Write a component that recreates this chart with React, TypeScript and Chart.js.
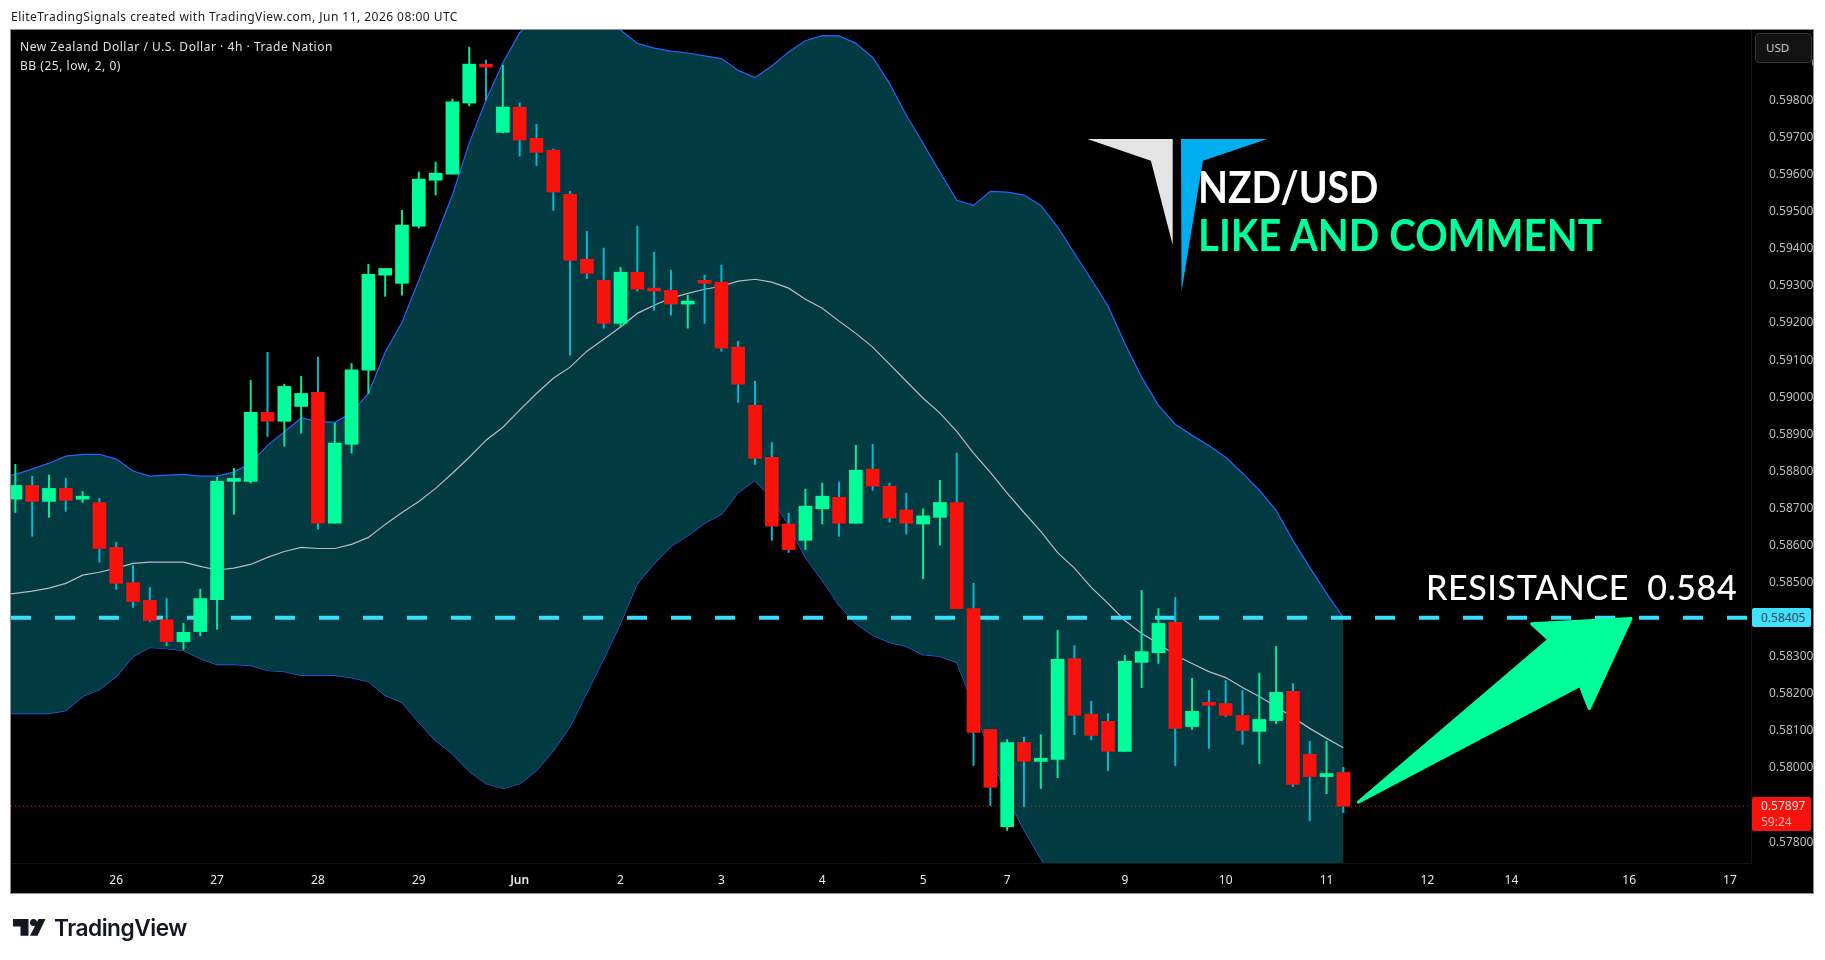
import { useEffect, useRef } from 'react'
import { Chart, registerables } from 'chart.js'

Chart.register(...registerables)

const OPEN = [
  0.58725, 0.58762, 0.58719, 0.58754, 0.58725, 0.58716, 0.58595, 0.58500, 0.58452, 0.58400,
  0.58341, 0.58368, 0.58454, 0.58773, 0.58773, 0.58959, 0.58935, 0.58975, 0.59013, 0.58660,
  0.58873, 0.59073, 0.59329, 0.59307, 0.59461, 0.59585, 0.59601, 0.59793, 0.59898, 0.59714,
  0.59782, 0.59698, 0.59666, 0.59547, 0.59372, 0.59315, 0.59199, 0.59337, 0.59294, 0.59288,
  0.59251, 0.59315, 0.59310, 0.59135, 0.58978, 0.58838, 0.58658, 0.58614, 0.58699, 0.58730,
  0.58660, 0.58806, 0.58760, 0.58696, 0.58658, 0.58676, 0.58716, 0.58430, 0.58104, 0.57842,
  0.58069, 0.58018, 0.58023, 0.58295, 0.58145, 0.58126, 0.58045, 0.58285, 0.58311, 0.58393,
  0.58112, 0.58177, 0.58174, 0.58142, 0.58099, 0.58128, 0.58207, 0.58037, 0.57977, 0.57988,
]
const HIGH = [
  0.58819, 0.58787, 0.58790, 0.58781, 0.58746, 0.58727, 0.58609, 0.58546, 0.58487, 0.58457,
  0.58390, 0.58482, 0.58784, 0.58808, 0.59045, 0.59121, 0.59035, 0.59056, 0.59108, 0.58930,
  0.59091, 0.59358, 0.59347, 0.59504, 0.59607, 0.59634, 0.59804, 0.59944, 0.59909, 0.59895,
  0.59793, 0.59736, 0.59669, 0.59555, 0.59447, 0.59402, 0.59350, 0.59461, 0.59391, 0.59342,
  0.59275, 0.59329, 0.59356, 0.59151, 0.59043, 0.58878, 0.58687, 0.58752, 0.58768, 0.58771,
  0.58870, 0.58873, 0.58768, 0.58741, 0.58699, 0.58776, 0.58849, 0.58498, 0.58104, 0.58077,
  0.58083, 0.58090, 0.58371, 0.58330, 0.58180, 0.58147, 0.58304, 0.58479, 0.58430, 0.58460,
  0.58242, 0.58209, 0.58236, 0.58209, 0.58255, 0.58328, 0.58228, 0.58072, 0.58072, 0.58002,
]
const LOW = [
  0.58689, 0.58625, 0.58676, 0.58692, 0.58716, 0.58555, 0.58482, 0.58433, 0.58395, 0.58330,
  0.58320, 0.58357, 0.58374, 0.58684, 0.58768, 0.58894, 0.58868, 0.58903, 0.58644, 0.58660,
  0.58849, 0.59010, 0.59272, 0.59275, 0.59456, 0.59545, 0.59601, 0.59785, 0.59801, 0.59712,
  0.59650, 0.59625, 0.59504, 0.59113, 0.59320, 0.59186, 0.59189, 0.59286, 0.59234, 0.59221,
  0.59186, 0.59199, 0.59124, 0.58986, 0.58819, 0.58614, 0.58581, 0.58589, 0.58658, 0.58625,
  0.58660, 0.58749, 0.58663, 0.58631, 0.58511, 0.58601, 0.58430, 0.58007, 0.57899, 0.57832,
  0.57896, 0.57945, 0.57974, 0.58090, 0.58077, 0.57993, 0.58045, 0.58217, 0.58282, 0.58007,
  0.58104, 0.58053, 0.58139, 0.58064, 0.58012, 0.58120, 0.57950, 0.57858, 0.57931, 0.57880,
]
const CLOSE = [
  0.58762, 0.58719, 0.58754, 0.58722, 0.58733, 0.58592, 0.58498, 0.58449, 0.58398, 0.58341,
  0.58366, 0.58457, 0.58773, 0.58776, 0.58959, 0.58935, 0.59029, 0.59010, 0.58660, 0.58876,
  0.59074, 0.59331, 0.59347, 0.59464, 0.59588, 0.59604, 0.59796, 0.59898, 0.59890, 0.59782,
  0.59693, 0.59660, 0.59553, 0.59369, 0.59334, 0.59199, 0.59337, 0.59291, 0.59286, 0.59251,
  0.59253, 0.59307, 0.59132, 0.59035, 0.58835, 0.58652, 0.58589, 0.58706, 0.58733, 0.58660,
  0.58803, 0.58760, 0.58674, 0.58660, 0.58680, 0.58716, 0.58430, 0.58096, 0.57948, 0.58069,
  0.58018, 0.58026, 0.58293, 0.58142, 0.58088, 0.58045, 0.58288, 0.58314, 0.58390, 0.58107,
  0.58153, 0.58169, 0.58142, 0.58101, 0.58131, 0.58204, 0.57956, 0.57977, 0.57985, 0.57897,
]
// the bands start one bar before the first candle, so they reach the left edge
const BB_UPPER = [
  0.58780,
  0.58792, 0.58806, 0.58822, 0.58841, 0.58846, 0.58846, 0.58833, 0.58801, 0.58787, 0.58790,
  0.58792, 0.58787, 0.58787, 0.58798, 0.58822, 0.58870, 0.58906, 0.58944, 0.58935, 0.58932,
  0.58957, 0.59010, 0.59121, 0.59202, 0.59315, 0.59429, 0.59545, 0.59685, 0.59801, 0.59901,
  0.59982, 0.60030, 0.60057, 0.60071, 0.60057, 0.60030, 0.59990, 0.59954, 0.59941, 0.59933,
  0.59928, 0.59920, 0.59913, 0.59881, 0.59862, 0.59893, 0.59931, 0.59961, 0.59975, 0.59974,
  0.59954, 0.59916, 0.59846, 0.59760, 0.59684, 0.59607, 0.59531, 0.59517, 0.59555, 0.59553,
  0.59545, 0.59517, 0.59459, 0.59388, 0.59318, 0.59246, 0.59145, 0.59054, 0.58978, 0.58927,
  0.58897, 0.58870, 0.58838, 0.58795, 0.58749, 0.58695, 0.58614, 0.58541, 0.58471, 0.58406,
]
const BB_MID = [
  0.58465,
  0.58471, 0.58477, 0.58485, 0.58498, 0.58520, 0.58528, 0.58539, 0.58552, 0.58555, 0.58555,
  0.58555, 0.58544, 0.58534, 0.58539, 0.58549, 0.58568, 0.58584, 0.58595, 0.58592, 0.58592,
  0.58603, 0.58622, 0.58657, 0.58689, 0.58719, 0.58754, 0.58795, 0.58838, 0.58884, 0.58919,
  0.58965, 0.59010, 0.59051, 0.59081, 0.59124, 0.59156, 0.59189, 0.59226, 0.59248, 0.59267,
  0.59280, 0.59291, 0.59299, 0.59313, 0.59318, 0.59310, 0.59294, 0.59264, 0.59240, 0.59205,
  0.59172, 0.59135, 0.59089, 0.59043, 0.58997, 0.58957, 0.58908, 0.58849, 0.58797, 0.58741,
  0.58689, 0.58638, 0.58581, 0.58539, 0.58487, 0.58444, 0.58398, 0.58363, 0.58336, 0.58304,
  0.58282, 0.58260, 0.58244, 0.58217, 0.58193, 0.58166, 0.58136, 0.58107, 0.58080, 0.58055,
]
const BB_LOWER = [
  0.58147,
  0.58147, 0.58147, 0.58147, 0.58155, 0.58193, 0.58212, 0.58247, 0.58301, 0.58325, 0.58322,
  0.58317, 0.58295, 0.58279, 0.58279, 0.58277, 0.58263, 0.58260, 0.58250, 0.58250, 0.58250,
  0.58244, 0.58233, 0.58196, 0.58177, 0.58123, 0.58074, 0.58039, 0.57991, 0.57958, 0.57945,
  0.57958, 0.57993, 0.58047, 0.58112, 0.58204, 0.58295, 0.58390, 0.58498, 0.58552, 0.58598,
  0.58627, 0.58660, 0.58684, 0.58743, 0.58776, 0.58727, 0.58655, 0.58568, 0.58506, 0.58439,
  0.58390, 0.58358, 0.58339, 0.58328, 0.58306, 0.58301, 0.58285, 0.58169, 0.58039, 0.57921,
  0.57834, 0.57756, 0.57683, 0.57643, 0.57629, 0.57616, 0.57610, 0.57610, 0.57616, 0.57621,
  0.57629, 0.57637, 0.57643, 0.57648, 0.57656, 0.57664, 0.57670, 0.57675, 0.57683, 0.57697,
]

const RESISTANCE = 0.58405
const LAST_PRICE = 0.57897
const X_MIN = -0.26
const X_MAX = 103.25
const Y_MIN = 0.57744
const Y_MAX = 0.5999

const DATE_POS = [6, 12, 18, 24, 30, 36, 42, 48, 54, 59, 66, 72, 78, 84, 89, 96, 102]
const DATE_LABELS = ['26', '27', '28', '29', 'Jun', '2', '3', '4', '5', '7', '9', '10', '11', '12', '14', '16', '17']
// 0.584 and 0.579 sit under the two price tags
const PRICE_TICKS = [
  0.578, 0.58, 0.581, 0.582, 0.583, 0.585, 0.586, 0.587, 0.588, 0.589, 0.59,
  0.591, 0.592, 0.593, 0.594, 0.595, 0.596, 0.597, 0.598, 0.599,
]

// hand drawn arrow, in bar index / price units
const ARROW_X = [79.89, 91.23, 90.2, 96.11, 93.63, 93.08]
const ARROW_Y = [0.57908, 0.58346, 0.58389, 0.58403, 0.5816, 0.58223]

const UP = '#00FF9A'
const DOWN = '#F7120C'
const UP_WICK = '#00F09A'
const DOWN_WICK = '#00BCD4'
const BAND = '#023A42'
const BAND_LINE = '#2962FF'

const SMALL = "'Noto Sans', sans-serif"
const BIG = "Lato, sans-serif"

const isUp = (i: number) => CLOSE[i] >= OPEN[i]
const series = (vals: number[]) => vals.map((y, i) => ({ x: i - 1, y }))

const panelPlugin = {
  id: 'panel',
  beforeDraw(chart: any) {
    const { ctx } = chart
    ctx.save()
    ctx.fillStyle = '#000'
    ctx.fillRect(11, 30, 1802, 863)
    ctx.strokeStyle = '#8f8f8f'
    ctx.lineWidth = 1
    ctx.strokeRect(10.5, 29.5, 1803, 864)
    ctx.restore()
  },
}

const arrowPlugin = {
  id: 'arrow',
  afterDatasetsDraw(chart: any) {
    const { ctx, scales } = chart
    ctx.save()
    ctx.fillStyle = UP
    ctx.strokeStyle = UP
    ctx.lineWidth = 3
    ctx.lineJoin = 'round'
    ctx.beginPath()
    ARROW_X.forEach((v, i) => {
      const px = scales.x.getPixelForValue(v)
      const py = scales.y.getPixelForValue(ARROW_Y[i])
      if (i === 0) ctx.moveTo(px, py)
      else ctx.lineTo(px, py)
    })
    ctx.closePath()
    ctx.fill()
    ctx.stroke()
    ctx.restore()
  },
}

const label = (left: number, top: number, text: string, style: any) => (
  <div style={{ position: 'absolute', left, top, whiteSpace: 'pre', ...style }}>{text}</div>
)

export default function App() {
  const canvasRef = useRef<HTMLCanvasElement>(null)

  useEffect(() => {
    if (!canvasRef.current) return
    const chart = new Chart(canvasRef.current, {
      type: 'bar',
      data: {
        datasets: [
          {
            type: 'line', label: 'BB upper', data: series(BB_UPPER), borderColor: BAND_LINE, borderWidth: 1.2,
            backgroundColor: BAND, fill: '+1', pointRadius: 0, tension: 0, order: 6,
          },
          {
            type: 'line', label: 'BB lower', data: series(BB_LOWER), borderColor: BAND_LINE, borderWidth: 1.2,
            pointRadius: 0, tension: 0, order: 6,
          },
          {
            type: 'line', label: 'BB basis', data: series(BB_MID), borderColor: '#B8BBC4', borderWidth: 1.2,
            pointRadius: 0, tension: 0, order: 5,
          },
          {
            type: 'line', label: 'Resistance', data: [{ x: X_MIN, y: RESISTANCE }, { x: X_MAX, y: RESISTANCE }],
            borderColor: '#36E0F8', borderWidth: 4, borderDash: [20, 24], pointRadius: 0, order: 4,
          },
          {
            type: 'line', label: 'Last', data: [{ x: X_MIN, y: LAST_PRICE }, { x: X_MAX, y: LAST_PRICE }],
            borderColor: '#F7120C', borderWidth: 1, borderDash: [1, 3], pointRadius: 0, order: 4,
          },
          {
            label: 'Wick', data: HIGH.map((h, i) => ({ x: i, y: [LOW[i], h] })),
            backgroundColor: HIGH.map((_, i) => (isUp(i) ? UP_WICK : DOWN_WICK)),
            barThickness: 1.3, grouped: false, order: 2,
          },
          {
            label: 'Body', data: OPEN.map((o, i) => ({ x: i, y: [o, CLOSE[i]] })),
            backgroundColor: OPEN.map((_, i) => (isUp(i) ? UP : DOWN)),
            barThickness: 13, minBarLength: 3, grouped: false, order: 1,
          },
        ],
      } as any,
      options: {
        responsive: false,
        animation: false,
        events: [],
        layout: { padding: { left: 11, top: 30, right: 12, bottom: 67 } },
        plugins: { legend: { display: false }, tooltip: { enabled: false } },
        scales: {
          x: {
            type: 'linear',
            offset: false,
            min: X_MIN,
            max: X_MAX,
            grid: { display: false },
            border: { color: '#141414' },
            afterBuildTicks: (s: any) => { s.ticks = DATE_POS.map(value => ({ value })) },
            afterFit: (s: any) => { s.height = 30; s.paddingLeft = 0; s.paddingRight = 0 },
            ticks: {
              autoSkip: false,
              maxRotation: 0,
              padding: 2,
              color: '#E8E8E8',
              font: (c: any) => ({ family: SMALL, size: 12, weight: c.tick && c.tick.value === 30 ? '600' : '400' }),
              callback: (v: any) => DATE_LABELS[DATE_POS.indexOf(Number(v))],
            },
          },
          y: {
            type: 'linear',
            position: 'right',
            min: Y_MIN,
            max: Y_MAX,
            grid: { display: false },
            border: { color: '#141414' },
            afterBuildTicks: (s: any) => { s.ticks = PRICE_TICKS.map(value => ({ value })) },
            afterFit: (s: any) => { s.width = 62; s.paddingTop = 0; s.paddingBottom = 0 },
            ticks: {
              autoSkip: false,
              padding: 10,
              color: '#BDBDBD',
              font: { family: SMALL, size: 12 },
              callback: (v: any) => Number(v).toFixed(5),
            },
          },
        },
      },
      plugins: [panelPlugin, arrowPlugin],
    } as any)

    return () => { chart.destroy() }
  }, [])

  return (
    <div style={{ position: 'absolute', left: 0, top: 0, width: 1825, height: 960, background: '#fff', overflow: 'hidden', fontFamily: SMALL, fontSize: 12 }}>
      <canvas ref={canvasRef} width={1825} height={960} style={{ display: 'block', width: 1825, height: 960 }} />

      {label(11, 8, 'EliteTradingSignals created with TradingView.com, Jun 11, 2026 08:00 UTC', { color: '#1a1a1a', letterSpacing: 0.46 })}
      {label(20, 38, 'New Zealand Dollar / U.S. Dollar · 4h · Trade Nation', { color: '#E0E0E0', letterSpacing: 0.53 })}
      {label(20, 57, 'BB (25, low, 2, 0)', { color: '#E0E0E0', letterSpacing: 0.53 })}

      {/* the button hides most of the 0.599 tick */}
      <div style={{ position: 'absolute', left: 1755, top: 60, width: 57, height: 6.5, background: '#000' }} />
      <div style={{ position: 'absolute', left: 1755, top: 33, width: 57, height: 30, boxSizing: 'border-box', background: '#121212', border: '1px solid #333', borderRadius: 4, color: '#C8C8C8', fontSize: 11.5, lineHeight: '28px', paddingLeft: 10 }}>USD</div>

      <div style={{ position: 'absolute', left: 1752, top: 608, width: 59, height: 19, background: '#40E0FF', borderRadius: 2, color: '#1F4A55', lineHeight: '19px', paddingLeft: 9, boxSizing: 'border-box' }}>0.58405</div>
      <div style={{ position: 'absolute', left: 1752, top: 797, width: 59, height: 34, background: '#F7120C', borderRadius: 2, color: '#FFE0DE', lineHeight: '16px', paddingLeft: 9, paddingTop: 1, boxSizing: 'border-box' }}>
        <div>0.57897</div>
        <div style={{ color: '#FFB4B0' }}>59:24</div>
      </div>

      {label(1198, 162, 'NZD/USD', { color: '#fff', fontFamily: BIG, fontSize: 43, fontWeight: 700, lineHeight: '50px', transform: 'scaleX(0.905)', transformOrigin: '0 0' })}
      {label(1198, 210, 'LIKE AND COMMENT', { color: UP, fontFamily: BIG, fontSize: 43, fontWeight: 700, lineHeight: '50px', transform: 'scaleX(0.935)', transformOrigin: '0 0' })}
      {label(1426, 566, 'RESISTANCE  0.584', { color: '#fff', fontFamily: BIG, fontSize: 34, fontWeight: 500, lineHeight: '42px', letterSpacing: 0.6 })}

      <svg width={1825} height={960} style={{ position: 'absolute', left: 0, top: 0, pointerEvents: 'none' }}>
        <polygon points="1087.3,139 1172.7,139 1172.7,245 1150.9,160.7" fill="#E4E4E4" />
        <polygon points="1181,139 1267.3,139 1202.9,160.7 1181.5,291.7" fill="#00AEEF" />
        <polygon points="13,919 28.5,919 28.5,935.7 20.5,935.7 20.5,926.5 13,926.5" fill="#131722" />
        <circle cx="33.5" cy="922.5" r="3.5" fill="#131722" />
        <polygon points="38.5,919 45.5,919 37.5,935.7 30,935.7" fill="#131722" />
      </svg>
      {label(54, 914, 'TradingView', { color: '#131722', fontFamily: "Inter, sans-serif", fontSize: 22.7, fontWeight: 600, lineHeight: '28px', letterSpacing: -0.5 })}
    </div>
  )
}
